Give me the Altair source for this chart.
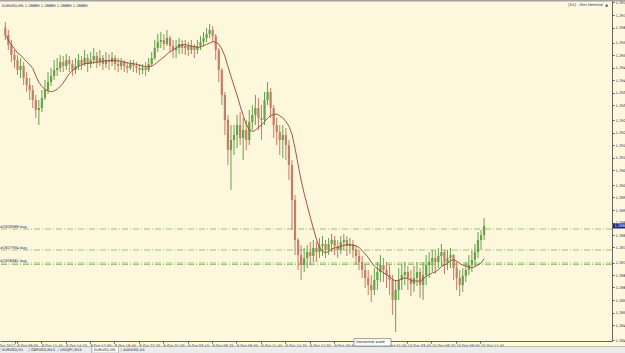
import altair as alt
import pandas as pd
import numpy as np

# ---- data (EURUSD, 20-minute candles) ----
highs = [1.29672, 1.29640, 1.29600, 1.29560, 1.29540, 1.29528, 1.29512, 1.29472, 1.29448, 1.29420,
         1.29380, 1.29360, 1.29400, 1.29440, 1.29472, 1.29488, 1.29520, 1.29528, 1.29540, 1.29536,
         1.29544, 1.29536, 1.29520, 1.29528, 1.29544, 1.29536, 1.29560, 1.29544, 1.29552, 1.29568,
         1.29552, 1.29560, 1.29540, 1.29552, 1.29544, 1.29552, 1.29540, 1.29528, 1.29528, 1.29520,
         1.29512, 1.29520, 1.29520, 1.29512, 1.29504, 1.29504, 1.29512, 1.29528, 1.29552, 1.29600,
         1.29624, 1.29632, 1.29624, 1.29640, 1.29616, 1.29600, 1.29600, 1.29608, 1.29600, 1.29600,
         1.29592, 1.29600, 1.29584, 1.29600, 1.29616, 1.29632, 1.29648, 1.29664, 1.29656, 1.29624,
         1.29568, 1.29488, 1.29392, 1.29300, 1.29260, 1.29260, 1.29300, 1.29312, 1.29288, 1.29280,
         1.29320, 1.29340, 1.29380, 1.29368, 1.29340, 1.29392, 1.29432, 1.29408, 1.29340, 1.29288,
         1.29260, 1.29260, 1.29248, 1.29200, 1.29120, 1.28980, 1.28808, 1.28780, 1.28768, 1.28780,
         1.28792, 1.28800, 1.28792, 1.28808, 1.28816, 1.28800, 1.28808, 1.28824, 1.28816, 1.28800,
         1.28816, 1.28824, 1.28816, 1.28808, 1.28800, 1.28780, 1.28760, 1.28736, 1.28704, 1.28680,
         1.28660, 1.28688, 1.28712, 1.28740, 1.28728, 1.28712, 1.28700, 1.28660, 1.28640, 1.28688,
         1.28700, 1.28712, 1.28696, 1.28680, 1.28696, 1.28712, 1.28688, 1.28712, 1.28740, 1.28752,
         1.28760, 1.28760, 1.28768, 1.28784, 1.28760, 1.28760, 1.28768, 1.28744, 1.28712, 1.28680,
         1.28688, 1.28712, 1.28740, 1.28760, 1.28784, 1.28832, 1.28840, 1.28888]
lows = [1.29600, 1.29560, 1.29512, 1.29488, 1.29460, 1.29448, 1.29420, 1.29392, 1.29360, 1.29328,
        1.29288, 1.29260, 1.29312, 1.29360, 1.29384, 1.29416, 1.29440, 1.29456, 1.29472, 1.29472,
        1.29480, 1.29472, 1.29456, 1.29464, 1.29480, 1.29480, 1.29496, 1.29472, 1.29488, 1.29504,
        1.29488, 1.29496, 1.29480, 1.29488, 1.29480, 1.29496, 1.29480, 1.29472, 1.29480, 1.29472,
        1.29468, 1.29480, 1.29472, 1.29468, 1.29460, 1.29464, 1.29456, 1.29472, 1.29496, 1.29520,
        1.29552, 1.29568, 1.29560, 1.29576, 1.29552, 1.29528, 1.29528, 1.29544, 1.29544, 1.29540,
        1.29536, 1.29544, 1.29528, 1.29544, 1.29560, 1.29576, 1.29592, 1.29608, 1.29592, 1.29520,
        1.29432, 1.29340, 1.29220, 1.29100, 1.29000, 1.29140, 1.29168, 1.29180, 1.29120, 1.29160,
        1.29180, 1.29240, 1.29260, 1.29240, 1.29200, 1.29260, 1.29340, 1.29288, 1.29208, 1.29180,
        1.29140, 1.29128, 1.29120, 1.29040, 1.28840, 1.28740, 1.28680, 1.28640, 1.28672, 1.28688,
        1.28700, 1.28712, 1.28712, 1.28728, 1.28736, 1.28728, 1.28740, 1.28752, 1.28740, 1.28728,
        1.28744, 1.28760, 1.28736, 1.28744, 1.28728, 1.28704, 1.28680, 1.28648, 1.28608, 1.28580,
        1.28552, 1.28580, 1.28600, 1.28632, 1.28632, 1.28608, 1.28580, 1.28500, 1.28432, 1.28560,
        1.28600, 1.28620, 1.28600, 1.28576, 1.28592, 1.28616, 1.28568, 1.28560, 1.28620, 1.28648,
        1.28672, 1.28664, 1.28688, 1.28696, 1.28664, 1.28680, 1.28688, 1.28640, 1.28600, 1.28576,
        1.28592, 1.28632, 1.28660, 1.28672, 1.28696, 1.28728, 1.28760, 1.28800]
closes = [1.29620, 1.29580, 1.29540, 1.29520, 1.29480, 1.29496, 1.29448, 1.29420, 1.29400, 1.29360,
          1.29320, 1.29328, 1.29368, 1.29400, 1.29432, 1.29456, 1.29480, 1.29488, 1.29512, 1.29496,
          1.29520, 1.29504, 1.29480, 1.29496, 1.29520, 1.29504, 1.29528, 1.29504, 1.29520, 1.29536,
          1.29512, 1.29528, 1.29504, 1.29520, 1.29512, 1.29528, 1.29504, 1.29496, 1.29512, 1.29496,
          1.29488, 1.29504, 1.29496, 1.29488, 1.29480, 1.29488, 1.29480, 1.29504, 1.29528, 1.29568,
          1.29592, 1.29600, 1.29584, 1.29608, 1.29576, 1.29560, 1.29568, 1.29584, 1.29568, 1.29576,
          1.29560, 1.29576, 1.29560, 1.29576, 1.29592, 1.29608, 1.29624, 1.29640, 1.29616, 1.29560,
          1.29480, 1.29380, 1.29280, 1.29160, 1.29200, 1.29220, 1.29260, 1.29208, 1.29240, 1.29200,
          1.29272, 1.29300, 1.29328, 1.29288, 1.29280, 1.29360, 1.29392, 1.29328, 1.29260, 1.29232,
          1.29200, 1.29220, 1.29180, 1.29100, 1.28960, 1.28800, 1.28740, 1.28700, 1.28728, 1.28752,
          1.28736, 1.28768, 1.28752, 1.28776, 1.28784, 1.28760, 1.28784, 1.28800, 1.28776, 1.28760,
          1.28792, 1.28800, 1.28776, 1.28784, 1.28760, 1.28736, 1.28712, 1.28680, 1.28648, 1.28620,
          1.28600, 1.28640, 1.28672, 1.28700, 1.28680, 1.28660, 1.28640, 1.28560, 1.28600, 1.28640,
          1.28660, 1.28672, 1.28648, 1.28624, 1.28648, 1.28672, 1.28620, 1.28660, 1.28700, 1.28712,
          1.28728, 1.28712, 1.28736, 1.28752, 1.28712, 1.28728, 1.28740, 1.28688, 1.28648, 1.28620,
          1.28656, 1.28680, 1.28700, 1.28720, 1.28752, 1.28800, 1.28820, 1.28856]
first_open = 1.29650

order_prices = [1.28844, 1.28760, 1.28708, 1.28702]
order_labels = ["#2828989 buy", "#2827934 buy", "#2826661 buy", ""]

y_ticks = [1.2975, 1.2970, 1.2965, 1.2959, 1.2954, 1.2949, 1.2944, 1.2939, 1.2934, 1.2928,
           1.2923, 1.2918, 1.2913, 1.2908, 1.2902, 1.2897, 1.2892, 1.2887, 1.2882, 1.2877,
           1.2871, 1.2866, 1.2861, 1.2856, 1.2851, 1.2846, 1.2840]

x_ticks = [(8, 8, 53), (8, 9, 5), (8, 11, 45), (8, 14, 25), (8, 17, 5), (8, 19, 45), (8, 22, 25),
           (9, 1, 5), (9, 3, 45), (9, 6, 25), (9, 9, 5), (9, 11, 45), (9, 14, 25), (9, 17, 5),
           (9, 19, 45), (9, 22, 25), (10, 1, 5), (10, 3, 45), (10, 6, 25), (10, 9, 5), (10, 11, 45)]

tab_names = ["EURUSD,H1", "GBPUSD,M15", "USDJPY,M15", "EURUSD,M5", "AUDUSD,H1"]
tab_x = [2, 31, 60, 94, 123]

title_txt = "EURUSD,M5  1.28869 1.28869 1.28869 1.28869"
current_price = closes[-1]

# ---- frames ----
times = pd.date_range("2012-10-08 07:50", periods=len(closes), freq="20min")
opens = [first_open] + closes[:-1]
df = pd.DataFrame({"t": times, "open": opens, "high": highs, "low": lows, "close": closes})
df["dir"] = np.where(df["close"] >= df["open"], "up", "down")

W, H = 612, 341
BG = "#FDF7DC"
UP, DOWN, MA = "#64a24c", "#c47e66", "#9a4434"
FONT = "DejaVu Sans"

xscale = alt.Scale(domain=[alt.DateTime(year=2012, month=10, date=8, hours=7, minutes=48),
                           alt.DateTime(year=2012, month=10, date=11, hours=1, minutes=36)])
yscale = alt.Scale(domain=[1.28396, 1.29760], nice=False, zero=False)
color = alt.Color("dir:N", scale=alt.Scale(domain=["up", "down"], range=[UP, DOWN]), legend=None)

xaxis = alt.Axis(values=[alt.DateTime(year=2012, month=10, date=d, hours=h, minutes=m) for d, h, m in x_ticks],
                 tickCount=200,
                 labelExpr="datum.index == 0 ? '8 Oct 2012' : timeFormat(datum.value, '%-d %b %H:%M')",
                 labelAlign=alt.ExprRef(expr="datum.index == 0 ? 'right' : 'left'"),
                 labelBaseline="top", labelFontSize=3.6, labelColor="#222244",
                 labelFont=FONT, labelPadding=0, labelOverlap=False, labelFlush=False,
                 tickSize=2, tickColor="#555555", domainColor="#666666", grid=False, title=None)
yaxis = alt.Axis(orient="right", values=y_ticks, tickCount=200, format=".4f", labelFontSize=3.6,
                 labelColor="#222244", labelFont=FONT, labelPadding=1, labelOverlap=False, labelFlush=False,
                 tickSize=2, tickColor="#555555", domainColor="#666666", grid=False, title=None)

base = alt.Chart(df)

wicks = base.mark_rule(strokeWidth=1).encode(
    x=alt.X("t:T", scale=xscale, axis=xaxis),
    y=alt.Y("low:Q", scale=yscale, axis=yaxis),
    y2="high:Q",
    color=color,
)
bodies = base.mark_bar(size=2.2).encode(
    x="t:T", y="open:Q", y2="close:Q", color=color,
)
ma = base.transform_window(
    ma="mean(close)", frame=[-9, 0], sort=[alt.SortField("t")]
).mark_line(color=MA, strokeWidth=0.9).encode(x="t:T", y="ma:Q")

orders_df = pd.DataFrame({"p": order_prices, "lab": order_labels})
orders = alt.Chart(orders_df).mark_rule(color="#94c872", strokeWidth=1, strokeDash=[6, 2, 1, 2]).encode(
    y="p:Q")
order_text = alt.Chart(orders_df).mark_text(align="left", baseline="bottom", fontSize=3.6, font=FONT,
                                            color="#222266", dy=-0.5).encode(
    x=alt.value(0), y="p:Q", text="lab:N")

cur_df = pd.DataFrame({"p": [current_price], "lab": [f"{current_price:.4f}"]})
cur_box = alt.Chart(cur_df).mark_rect(color="#1b2a80", yOffset=-2.5, y2Offset=2.5).encode(
    x=alt.value(613), x2=alt.value(626), y="p:Q", y2="p:Q")
cur_txt = alt.Chart(cur_df).mark_text(align="left", baseline="middle", fontSize=3.6, font=FONT,
                                      color="white").encode(x=alt.value(614.5), y="p:Q", text="lab:N")

one = pd.DataFrame({"a": [0]})
top_strip = alt.Chart(one).mark_rect(color="#a4a4a4").encode(
    x=alt.value(0), x2=alt.value(625), y=alt.value(0), y2=alt.value(1.6))
title = alt.Chart(one).mark_text(align="left", baseline="middle", fontSize=3.6, font=FONT,
                                 color="#1a1a55", text=title_txt).encode(x=alt.value(2), y=alt.value(6))
mini = alt.Chart(one).mark_text(align="right", baseline="middle", fontSize=3.6, font=FONT,
                                color="#333355", text="[EA] - Mini terminal").encode(x=alt.value(603), y=alt.value(5))
mini_btn = alt.Chart(one).mark_text(align="center", baseline="middle", fontSize=3.5, font=FONT,
                                    color="#333355", text="▲").encode(x=alt.value(606.5), y=alt.value(5))

tabbar = alt.Chart(one).mark_rect(color="#ececec").encode(
    x=alt.value(0), x2=alt.value(625), y=alt.value(346.5), y2=alt.value(353))
tabline = alt.Chart(one).mark_rule(color="#9a9a9a", strokeWidth=0.6).encode(
    x=alt.value(0), x2=alt.value(625), y=alt.value(346.5))
active_tab = alt.Chart(one).mark_rect(color="#ffffff", stroke="#8a8a8a", strokeWidth=0.5).encode(
    x=alt.value(91.5), x2=alt.value(118.5), y=alt.value(346.5), y2=alt.value(353))
tabs_df = pd.DataFrame({"name": tab_names, "px": tab_x})
tabs = alt.Chart(tabs_df).mark_text(align="left", baseline="middle", fontSize=3.6, font=FONT,
                                    color="#222222").encode(
    x=alt.X("px:Q", scale=None), y=alt.value(350), text="name:N")
tab_sep = alt.Chart(tabs_df).mark_text(align="center", baseline="middle", fontSize=4, font=FONT,
                                       color="#777777", text="|", dx=-2).encode(
    x=alt.X("px:Q", scale=None), y=alt.value(350))

hs_box = alt.Chart(one).mark_rect(color="#fbfbf3", stroke="#555555", strokeWidth=0.5).encode(
    x=alt.value(354), x2=alt.value(391), y=alt.value(338.5), y2=alt.value(346))
hs_txt = alt.Chart(one).mark_text(align="left", baseline="middle", fontSize=3.6, font=FONT,
                                  color="#222222", text="Horizontal scale").encode(x=alt.value(356), y=alt.value(342.3))

chart = alt.layer(
    orders, order_text, wicks, bodies, ma, cur_box, cur_txt,
    top_strip, title, mini, mini_btn, tabbar, tabline, active_tab, tab_sep, tabs, hs_box, hs_txt,
).properties(
    width=W, height=H,
    padding={"left": 0, "top": 0, "right": 13, "bottom": 12},
    autosize=alt.AutoSizeParams(type="none"),
    background=BG,
).configure_view(stroke=None, fill=BG)

chart.save("out.html", embed_options={"renderer": "svg", "actions": False})
